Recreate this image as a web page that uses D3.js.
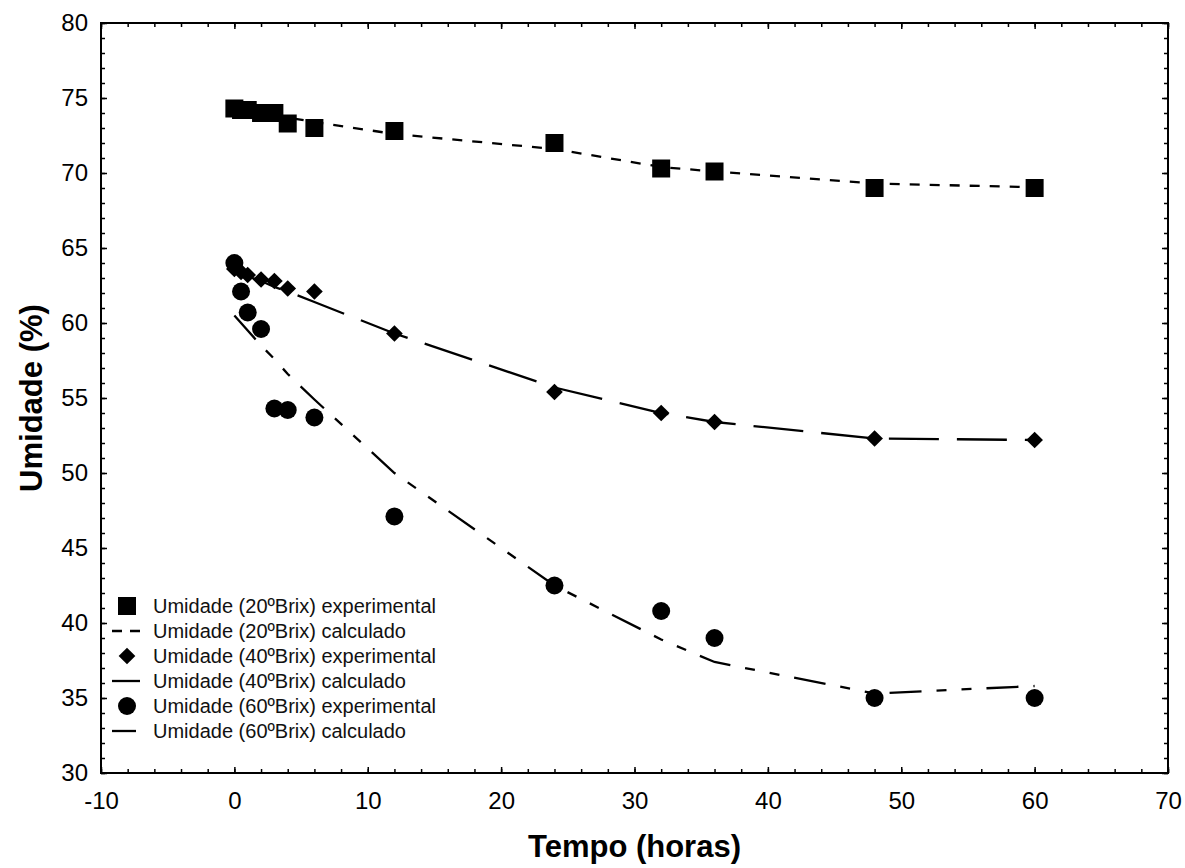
<!DOCTYPE html>
<html><head><meta charset="utf-8">
<script src="https://cdn.jsdelivr.net/npm/d3@7"></script>
<style>
body{margin:0;background:#fff;}
svg{display:block;font-family:"Liberation Sans",Arial,sans-serif;}
</style>
</head><body>
<svg id="c" width="1185" height="868"></svg>
<script>
// ---- data ----
const times  = [0, 0.5, 1, 2, 3, 4, 6, 12, 24, 32, 36, 48, 60];
const exp20  = [74.3, 74.2, 74.2, 74.0, 74.0, 73.3, 73.0, 72.8, 72.0, 70.3, 70.1, 69.0, 69.0];
const calc20 = [74.2, 74.15, 74.1, 74.0, 73.85, 73.7, 73.4, 72.6, 71.6, 70.4, 70.1, 69.3, 69.05];
const exp40  = [63.6, 63.4, 63.2, 62.9, 62.8, 62.3, 62.1, 59.3, 55.4, 54.0, 53.4, 52.3, 52.2];
const calc40 = [63.5, 63.3, 63.1, 62.8, 62.4, 62.1, 61.4, 59.3, 55.7, 54.0, 53.4, 52.3, 52.2];
const exp60  = [64.0, 62.1, 60.7, 59.6, 54.3, 54.2, 53.7, 47.1, 42.5, 40.8, 39.0, 35.0, 35.0];
const calc60 = [60.5, 60.0, 59.5, 58.5, 57.6, 56.6, 54.9, 50.0, 42.5, 38.9, 37.4, 35.3, 35.8];
const xTicks = [-10, 0, 10, 20, 30, 40, 50, 60, 70];
const yTicks = [30, 35, 40, 45, 50, 55, 60, 65, 70, 75, 80];
const legendLabels = [
  "Umidade (20ºBrix) experimental",
  "Umidade (20ºBrix) calculado",
  "Umidade (40ºBrix) experimental",
  "Umidade (40ºBrix) calculado",
  "Umidade (60ºBrix) experimental",
  "Umidade (60ºBrix) calculado"
];
const xLabel = "Tempo (horas)";
const yLabel = "Umidade (%)";

// ---- layout ----
const L = 101, R = 1168, T = 23, B = 773;
const svg = d3.select("#c");
const x = d3.scaleLinear().domain([-10, 70]).range([L, R]);
const y = d3.scaleLinear().domain([30, 80]).range([B, T]);

const xMinor = d3.range(-10, 70.001, 2);
const yMinor = d3.range(30, 80.001, 1);
const plainFmt = d => String(d);

function styleAxis(g) {
  g.select(".domain").remove();
  g.selectAll(".tick line").attr("stroke", "#000").attr("stroke-width", 1.5);
  g.selectAll("text").attr("fill", "#000").attr("font-size", 24);
}

// minor ticks
svg.append("g").attr("transform", `translate(0,${B})`)
  .call(d3.axisBottom(x).tickValues(xMinor).tickSize(-4).tickFormat(""))
  .call(styleAxis);
svg.append("g").attr("transform", `translate(0,${T})`)
  .call(d3.axisTop(x).tickValues(xMinor).tickSize(-4).tickFormat(""))
  .call(styleAxis);
svg.append("g").attr("transform", `translate(${L},0)`)
  .call(d3.axisLeft(y).tickValues(yMinor).tickSize(-4).tickFormat(""))
  .call(styleAxis);
svg.append("g").attr("transform", `translate(${R},0)`)
  .call(d3.axisRight(y).tickValues(yMinor).tickSize(-4).tickFormat(""))
  .call(styleAxis);
// major ticks + labels
svg.append("g").attr("transform", `translate(0,${B})`)
  .call(d3.axisBottom(x).tickValues(xTicks).tickSize(-6).tickPadding(19).tickFormat(plainFmt))
  .call(styleAxis);
svg.append("g").attr("transform", `translate(0,${T})`)
  .call(d3.axisTop(x).tickValues(xTicks).tickSize(-6).tickFormat(""))
  .call(styleAxis);
svg.append("g").attr("transform", `translate(${L},0)`)
  .call(d3.axisLeft(y).tickValues(yTicks).tickSize(-6).tickPadding(13).tickFormat(plainFmt))
  .call(styleAxis);
svg.append("g").attr("transform", `translate(${R},0)`)
  .call(d3.axisRight(y).tickValues(yTicks).tickSize(-6).tickFormat(""))
  .call(styleAxis);

// frame
svg.append("rect").attr("x", L).attr("y", T).attr("width", R - L).attr("height", B - T)
  .attr("fill", "none").attr("stroke", "#000").attr("stroke-width", 2);

// axis titles
svg.append("text").attr("x", (L + R) / 2).attr("y", 857).attr("text-anchor", "middle")
  .attr("font-weight", "bold").attr("font-size", 31).attr("fill", "#000").text(xLabel);
svg.append("text").attr("transform", `translate(42,${(T + B) / 2}) rotate(-90)`)
  .attr("text-anchor", "middle").attr("font-weight", "bold").attr("font-size", 31)
  .attr("fill", "#000").text(yLabel);

// ---- series ----
const dash20 = "10,10", dash40 = "50,18", dash60 = "32,15,10,15,10,15";
const series = [
  {exp: exp20, calc: calc20, dash: dash20, sym: "square"},
  {exp: exp40, calc: calc40, dash: dash40, sym: "diamond"},
  {exp: exp60, calc: calc60, dash: dash60, sym: "circle"}
];
const line = d3.line().x(d => x(d[0])).y(d => y(d[1]));

const symSquare = d3.symbol().type(d3.symbolSquare).size(18 * 18);
const symDiamond = d3.symbol().type(d3.symbolSquare).size(11.8 * 11.8);
const symCircle = d3.symbol().type(d3.symbolCircle).size(Math.PI * 9 * 9);
function drawSym(g, kind, cx, cy) {
  if (kind === "square") g.append("path").attr("d", symSquare()).attr("transform", `translate(${cx},${cy})`);
  else if (kind === "diamond") g.append("path").attr("d", symDiamond()).attr("transform", `translate(${cx},${cy}) rotate(45)`);
  else g.append("path").attr("d", symCircle()).attr("transform", `translate(${cx},${cy})`);
}

const plot = svg.append("g");
series.forEach(s => {
  plot.append("path").datum(times.map((t, i) => [t, s.calc[i]]))
    .attr("d", line).attr("fill", "none").attr("stroke", "#000")
    .attr("stroke-width", 2.3).attr("stroke-dasharray", s.dash);
});
series.forEach(s => {
  const g = plot.append("g").attr("fill", "#000");
  times.forEach((t, i) => drawSym(g, s.sym, x(t), y(s.exp[i])));
});

// ---- legend ----
const lg = svg.append("g");
const rowY = [606, 631, 656, 681, 706, 731];
legendLabels.forEach((lab, i) => {
  const s = series[Math.floor(i / 2)];
  const yy = rowY[i];
  if (i % 2 === 0) {
    const g = lg.append("g").attr("fill", "#000");
    drawSym(g, s.sym, 127, yy);
  } else {
    lg.append("line").attr("x1", 112).attr("x2", 140).attr("y1", yy).attr("y2", yy)
      .attr("stroke", "#000").attr("stroke-width", 2.3)
      .attr("stroke-dasharray", i === 1 ? "10,8" : (i === 3 ? null : "24,10"));
  }
  lg.append("text").attr("x", 153).attr("y", yy).attr("dy", "0.35em")
    .attr("font-size", 20).attr("fill", "#111").text(lab);
});
</script>
</body></html>
